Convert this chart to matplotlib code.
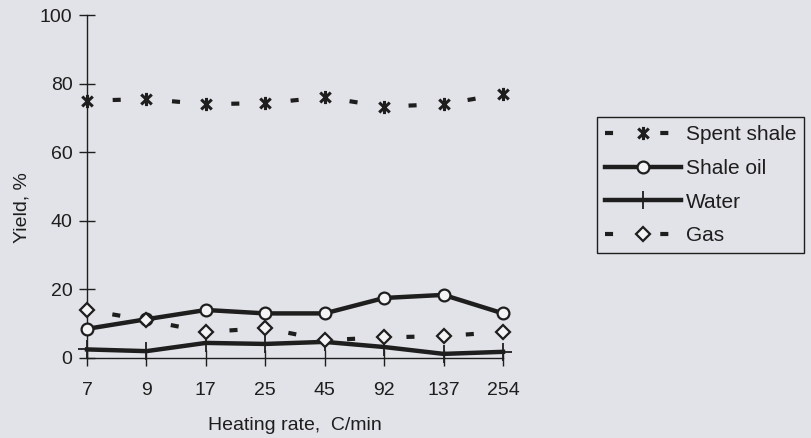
import matplotlib
matplotlib.use('Agg')
from matplotlib import pyplot as plt
from matplotlib.path import Path
from matplotlib.lines import Line2D

# yields of pyrolysis products vs heating rate
rates = ['7', '9', '17', '25', '45', '92', '137', '254']
spent_shale = [75, 75.5, 74, 74.3, 76, 73.3, 74, 77]
shale_oil = [8.5, 11.3, 14, 13, 13, 17.5, 18.4, 13]
water = [2.5, 2.0, 4.4, 4.1, 4.7, 3.2, 1.2, 1.8]
gas = [14, 11, 7.6, 8.7, 5.2, 6.0, 6.4, 7.6]

bg = '#e2e3e8'
ink = '#1e1e1e'
plt.rcParams['font.family'] = ['Liberation Sans', 'DejaVu Sans']
plt.rcParams['lines.scale_dashes'] = False

# asterisk: vertical bar crossed by an X
star = Path([(0, -1), (0, 1), (-0.8, -0.75), (0.8, 0.75), (-0.8, 0.75), (0.8, -0.75)],
            [Path.MOVETO, Path.LINETO] * 3)

fig = plt.figure(figsize=(8.11, 4.38), dpi=100, facecolor=bg)
ax = fig.add_axes([87 / 811, 1 - 358 / 438, 416 / 811, 343 / 438])
ax.set_facecolor(bg)

x = list(range(len(rates)))

# one short dash centred between neighbouring points
seg = ax.get_position().width * fig.get_figwidth() * 72 / (len(rates) - 1)
dash_on = 5.8
dashes = (seg - (seg - dash_on) / 2, (dash_on, seg - dash_on))

ax.plot(x, spent_shale, color=ink, lw=3.0, linestyle=dashes, marker=star, ms=9.5,
        mew=2.2, mfc='none', mec=ink, clip_on=False, zorder=3)
ax.plot(x, shale_oil, color=ink, lw=3.2, marker='o', ms=8.5, mew=1.6, mfc='#f4f4f6',
        mec=ink, clip_on=False, zorder=4)
ax.plot(x, water, color=ink, lw=3.2, marker='+', ms=13, mew=1.3, mec=ink,
        clip_on=False, zorder=3)
ax.plot(x, gas, color=ink, lw=3.0, linestyle=dashes, marker='D', ms=7.5, mew=1.6,
        mfc='#f4f4f6', mec=ink, clip_on=False, zorder=5)

ax.set_xlim(0, len(rates) - 1)
ax.set_ylim(0, 100)
ax.set_xticks(x)
ax.set_xticklabels(rates)
ax.set_yticks([0, 20, 40, 60, 80, 100])
for s in ['top', 'right']:
    ax.spines[s].set_visible(False)
for s in ['left', 'bottom']:
    ax.spines[s].set_color(ink)
    ax.spines[s].set_linewidth(1.0)
ax.tick_params(axis='both', direction='inout', length=11, width=1.0, colors=ink,
               labelsize=14)
ax.tick_params(axis='x', pad=12)
ax.tick_params(axis='y', pad=5)

ax.set_xlabel('Heating rate,  C/min', fontsize=14, color=ink)
ax.set_ylabel('Yield, %', fontsize=14, color=ink)
ax.xaxis.set_label_coords(0.5, -0.172)
ax.yaxis.set_label_coords(-0.135, 0.44)

# legend entries with the dashes placed either side of the marker
hl = 3.65
leg_dash = (0, (dash_on, 34, dash_on, 40))
handles = [
    Line2D([], [], color=ink, lw=3.0, linestyle=leg_dash, marker=star, ms=9.5, mew=2.2,
           mfc='none', mec=ink),
    Line2D([], [], color=ink, lw=3.2, marker='o', ms=8.5, mew=1.6, mfc='#f4f4f6', mec=ink),
    Line2D([], [], color=ink, lw=3.2, marker='+', ms=13, mew=1.3, mec=ink),
    Line2D([], [], color=ink, lw=3.0, linestyle=leg_dash, marker='D', ms=7.5, mew=1.6,
           mfc='#f4f4f6', mec=ink),
]
labels = ['Spent shale', 'Shale oil', 'Water', 'Gas']
leg = fig.legend(handles, labels, loc='upper left', bbox_to_anchor=(597 / 811, 1 - 117 / 438),
                 borderaxespad=0, fontsize=15, handlelength=hl, handletextpad=0.2,
                 borderpad=0.4, labelspacing=0.7, fancybox=False, framealpha=1,
                 facecolor=bg, edgecolor=ink, labelcolor=ink)
leg.get_frame().set_linewidth(1.0)

plt.savefig('out.png', dpi=100, facecolor=bg)
